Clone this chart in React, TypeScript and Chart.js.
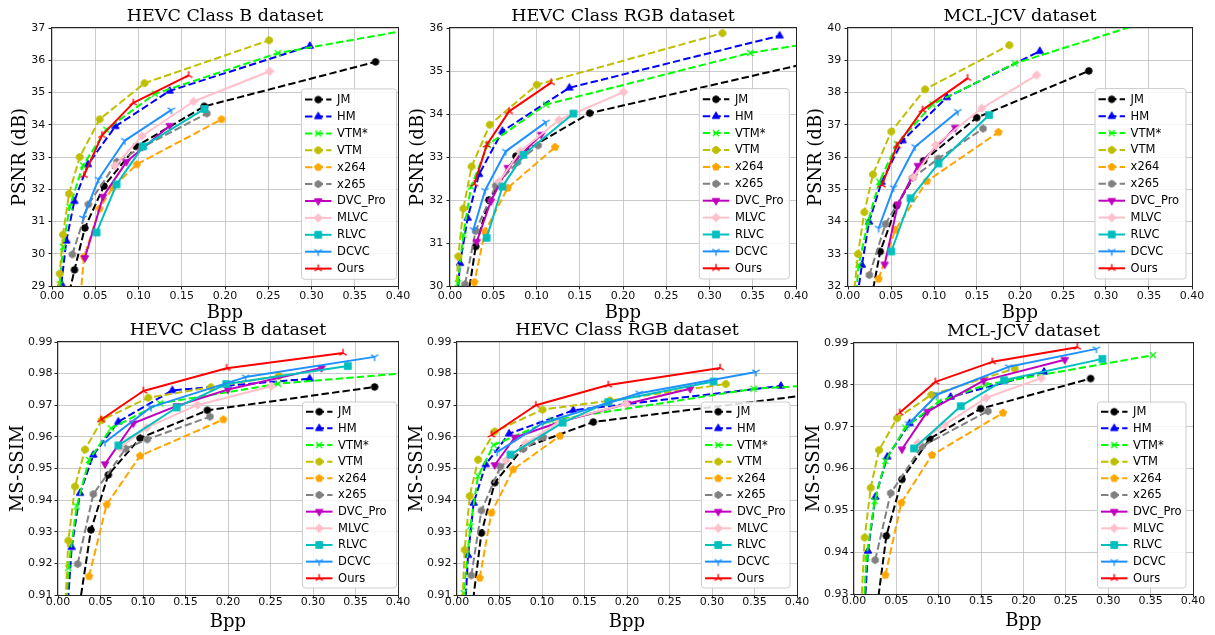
import React, { useEffect, useRef } from 'react';
import { Chart, registerables } from 'chart.js';

Chart.register(...registerables);

// ---------------- data ----------------
const SERIES = ['JM', 'HM', 'VTM*', 'VTM', 'x264', 'x265', 'DVC_Pro', 'MLVC', 'RLVC', 'DCVC', 'Ours'];

const BPP_TICKS = [0, 0.05, 0.1, 0.15, 0.2, 0.25, 0.3, 0.35, 0.4];
const PSNR_B_TICKS = [29, 30, 31, 32, 33, 34, 35, 36, 37];
const PSNR_RGB_TICKS = [30, 31, 32, 33, 34, 35, 36];
const PSNR_MCL_TICKS = [32, 33, 34, 35, 36, 37, 38, 39, 40];
const SSIM_B_TICKS = [0.91, 0.92, 0.93, 0.94, 0.95, 0.96, 0.97, 0.98, 0.99];
const SSIM_RGB_TICKS = [0.91, 0.92, 0.93, 0.94, 0.95, 0.96, 0.97, 0.98, 0.99];
const SSIM_MCL_TICKS = [0.93, 0.94, 0.95, 0.96, 0.97, 0.98, 0.99];

// [bpp, quality] per method, in SERIES order
const psnrClassB = [
  [[0.0175, 28.5], [0.026, 29.5], [0.038, 30.8], [0.06, 32.1], [0.0975, 33.33], [0.176, 34.57], [0.374, 35.95]],
  [[0.0108, 29.07], [0.0166, 30.4], [0.0258, 31.63], [0.0416, 32.77], [0.0732, 33.95], [0.136, 35.05], [0.298, 36.44]],
  [[0.0089, 29.05], [0.0127, 30.21], [0.0204, 31.45], [0.0358, 32.74], [0.0628, 33.85], [0.119, 34.96], [0.261, 36.22], [0.45, 37.12]],
  [[0.0064, 28.6], [0.0089, 29.38], [0.0127, 30.59], [0.0197, 31.86], [0.032, 33.0], [0.0551, 34.17], [0.107, 35.29], [0.251, 36.62]],
  [[0.033, 28.7], [0.037, 29.9], [0.055, 31.4], [0.07, 32.05], [0.098, 32.77], [0.196, 34.17]],
  [[0.0235, 29.98], [0.042, 31.53], [0.075, 32.85], [0.104, 33.3], [0.179, 34.35]],
  [[0.038, 29.87], [0.059, 31.77], [0.086, 32.85], [0.136, 33.97]],
  [[0.0728, 32.73], [0.104, 33.65], [0.1636, 34.72], [0.2516, 35.66]],
  [[0.0515, 30.66], [0.0746, 32.15], [0.1052, 33.33], [0.1763, 34.49]],
  [[0.0358, 31.11], [0.0538, 32.31], [0.0842, 33.51], [0.138, 34.46]],
  [[0.037, 32.43], [0.0578, 33.67], [0.094, 34.68], [0.158, 35.53]],
];

const psnrClassRGB = [
  [[0.019, 29.5], [0.0297, 30.92], [0.045, 32.0], [0.0762, 33.02], [0.1615, 34.02], [0.45, 35.35]],
  [[0.0075, 29.5], [0.0116, 30.53], [0.0204, 31.58], [0.0336, 32.6], [0.0606, 33.6], [0.138, 34.61], [0.381, 35.82]],
  [[0.0089, 30.06], [0.0154, 31.19], [0.0243, 32.31], [0.0436, 33.28], [0.111, 34.22], [0.347, 35.42], [0.45, 35.75]],
  [[0.006, 29.6], [0.0096, 30.69], [0.0154, 31.8], [0.025, 32.78], [0.046, 33.75], [0.1003, 34.68], [0.315, 35.88]],
  [[0.025, 29.5], [0.0282, 30.09], [0.0405, 31.27], [0.0667, 32.28], [0.1215, 33.23]],
  [[0.0174, 30.04], [0.0297, 31.28], [0.0528, 32.33], [0.078, 32.88], [0.102, 33.27]],
  [[0.0309, 31.03], [0.0472, 31.97], [0.0667, 32.75], [0.1055, 33.52]],
  [[0.0567, 32.43], [0.081, 33.13], [0.126, 33.86], [0.2006, 34.51]],
  [[0.0424, 31.12], [0.0606, 32.31], [0.0849, 33.05], [0.1427, 34.01]],
  [[0.027, 31.31], [0.0405, 32.22], [0.0644, 33.13], [0.111, 33.81]],
  [[0.0282, 32.37], [0.0424, 33.28], [0.0683, 34.06], [0.117, 34.73]],
];

const psnrMCL = [
  [[0.027, 31.6], [0.0375, 33.07], [0.0565, 34.49], [0.0878, 35.88], [0.1497, 37.22], [0.28, 38.67]],
  [[0.011, 31.7], [0.0162, 32.65], [0.0245, 33.99], [0.039, 35.22], [0.0635, 36.51], [0.115, 37.85], [0.223, 39.28]],
  [[0.0095, 31.8], [0.0124, 32.65], [0.0232, 33.99], [0.0364, 35.23], [0.0569, 36.4], [0.098, 37.63], [0.194, 38.9], [0.36, 40.3]],
  [[0.0063, 31.6], [0.0116, 32.99], [0.019, 34.29], [0.029, 35.46], [0.0503, 36.79], [0.0897, 38.1], [0.1876, 39.47]],
  [[0.0356, 32.22], [0.055, 33.74], [0.0917, 35.25], [0.175, 36.77]],
  [[0.0248, 32.34], [0.0436, 33.92], [0.075, 35.35], [0.105, 35.95], [0.157, 36.88]],
  [[0.0426, 32.67], [0.058, 34.53], [0.0812, 35.73], [0.1246, 36.91]],
  [[0.0762, 35.37], [0.102, 36.37], [0.1555, 37.51], [0.2193, 38.54]],
  [[0.0503, 33.07], [0.0727, 34.72], [0.1052, 35.8], [0.164, 37.3]],
  [[0.0356, 33.79], [0.053, 35.05], [0.078, 36.32], [0.1277, 37.41]],
  [[0.0395, 35.13], [0.0569, 36.35], [0.0867, 37.46], [0.139, 38.44]],
];

const ssimClassB = [
  [[0.0215, 0.9], [0.0388, 0.9306], [0.0592, 0.948], [0.0965, 0.9596], [0.1757, 0.9684], [0.3725, 0.9758]],
  [[0.011, 0.905], [0.0161, 0.9251], [0.0259, 0.9422], [0.0416, 0.9543], [0.071, 0.9648], [0.1345, 0.9747], [0.296, 0.9784]],
  [[0.0098, 0.905], [0.0122, 0.9185], [0.022, 0.938], [0.0365, 0.9527], [0.0624, 0.9627], [0.12, 0.9706], [0.2588, 0.9768], [0.45, 0.9811]],
  [[0.0082, 0.905], [0.0122, 0.9272], [0.02, 0.9443], [0.0318, 0.956], [0.0514, 0.9653], [0.1063, 0.9724], [0.18, 0.9757], [0.26, 0.9793]],
  [[0.0365, 0.9159], [0.0573, 0.9386], [0.0965, 0.954], [0.1945, 0.9655]],
  [[0.0231, 0.9198], [0.0416, 0.9419], [0.0796, 0.9563], [0.105, 0.9592], [0.1788, 0.9664]],
  [[0.0553, 0.9514], [0.0886, 0.9643], [0.14, 0.9698], [0.2, 0.975], [0.31, 0.9818]],
  [[0.073, 0.9566], [0.1043, 0.9629], [0.164, 0.9701], [0.251, 0.976]],
  [[0.071, 0.9573], [0.1396, 0.9693], [0.198, 0.9767], [0.341, 0.9824]],
  [[0.0553, 0.9583], [0.1094, 0.9694], [0.2208, 0.9789], [0.3725, 0.9853]],
  [[0.0506, 0.9654], [0.1004, 0.9745], [0.1984, 0.9817], [0.3353, 0.9865]],
];

const ssimClassRGB = [
  [[0.016, 0.902], [0.0287, 0.9296], [0.0444, 0.9455], [0.0778, 0.9565], [0.1603, 0.9647], [0.45, 0.9745]],
  [[0.009, 0.903], [0.013, 0.9226], [0.0196, 0.9391], [0.0338, 0.9513], [0.0613, 0.961], [0.1367, 0.9684], [0.381, 0.9761]],
  [[0.0065, 0.905], [0.0079, 0.9106], [0.0157, 0.9317], [0.0248, 0.9476], [0.0432, 0.9574], [0.111, 0.9652], [0.349, 0.9752], [0.45, 0.9768]],
  [[0.006, 0.905], [0.009, 0.9243], [0.015, 0.9413], [0.0248, 0.9528], [0.0444, 0.9617], [0.1006, 0.9686], [0.18, 0.9715], [0.3163, 0.9767]],
  [[0.0267, 0.9154], [0.0405, 0.936], [0.066, 0.9497], [0.121, 0.9603]],
  [[0.0169, 0.9162], [0.0287, 0.9367], [0.0511, 0.9506], [0.078, 0.9562], [0.1014, 0.9599]],
  [[0.0444, 0.9511], [0.068, 0.9598], [0.122, 0.9648], [0.2, 0.9705], [0.2743, 0.9752]],
  [[0.0574, 0.9525], [0.081, 0.958], [0.121, 0.9649], [0.1988, 0.9704]],
  [[0.0629, 0.9544], [0.1242, 0.9645], [0.178, 0.971], [0.3018, 0.9775]],
  [[0.0472, 0.9552], [0.1006, 0.9643], [0.2145, 0.9738], [0.3517, 0.9805]],
  [[0.0405, 0.9606], [0.0927, 0.97], [0.178, 0.9764], [0.3096, 0.9818]],
];

const ssimMCL = [
  [[0.024, 0.922], [0.0382, 0.9439], [0.0566, 0.9574], [0.0893, 0.9671], [0.1495, 0.9743], [0.2792, 0.9815]],
  [[0.012, 0.925], [0.0165, 0.9403], [0.0252, 0.9532], [0.0393, 0.9628], [0.0657, 0.9708], [0.114, 0.9771], [0.2242, 0.9831]],
  [[0.011, 0.925], [0.0146, 0.9387], [0.0244, 0.9522], [0.037, 0.9618], [0.0606, 0.9698], [0.1, 0.976], [0.155, 0.98], [0.3528, 0.9871]],
  [[0.008, 0.925], [0.0126, 0.9435], [0.0197, 0.9554], [0.0295, 0.9644], [0.0507, 0.972], [0.0912, 0.9776], [0.1896, 0.9839]],
  [[0.037, 0.9345], [0.0558, 0.9518], [0.092, 0.9632], [0.1758, 0.9733]],
  [[0.025, 0.9381], [0.0433, 0.9541], [0.08, 0.9653], [0.158, 0.9737]],
  [[0.0566, 0.9646], [0.0865, 0.9736], [0.153, 0.981], [0.2486, 0.986]],
  [[0.0755, 0.9661], [0.107, 0.9705], [0.156, 0.9769], [0.221, 0.9816]],
  [[0.0708, 0.9648], [0.1259, 0.9749], [0.177, 0.9811], [0.293, 0.9862]],
  [[0.0645, 0.9707], [0.0983, 0.9777], [0.1825, 0.9843], [0.286, 0.9886]],
  [[0.0539, 0.9733], [0.096, 0.9807], [0.1632, 0.9855], [0.2635, 0.989]],
];

// ---------------- styles ----------------
const COLORS = ['#000000', '#0000ff', '#00ff00', '#bfbf00', '#ffa500', '#808080', '#bf00bf', '#ffc0cb', '#00bfbf', '#1e90ff', '#ff0000'];
const DASHED = [true, true, true, true, true, true, false, false, false, false, false];
const MARKERS = ['circle', 'triUp', 'x', 'octagon', 'pentagon', 'hexagon', 'triDown', 'diamond', 'square', 'tri1', 'tri2'];
const DASH = [7.4, 3.2];

function makeMarker(shape: string, color: string): HTMLCanvasElement {
  const s = 14;
  const c = document.createElement('canvas');
  c.width = s;
  c.height = s;
  const g = c.getContext('2d')!;
  g.translate(s / 2, s / 2);
  g.fillStyle = color;
  g.strokeStyle = color;
  g.lineWidth = 1;
  const poly = (n: number, r: number, rot: number) => {
    g.beginPath();
    for (let i = 0; i < n; i++) {
      const a = rot + (i * 2 * Math.PI) / n;
      g.lineTo(r * Math.cos(a), r * Math.sin(a));
    }
    g.closePath();
    g.fill();
    g.stroke();
  };
  const rays = (angles: number[], r: number) => {
    g.lineWidth = 1.4;
    g.beginPath();
    for (const a of angles) {
      g.moveTo(0, 0);
      g.lineTo(r * Math.cos(a), r * Math.sin(a));
    }
    g.stroke();
  };
  switch (shape) {
    case 'circle':
      g.beginPath();
      g.arc(0, 0, 3.3, 0, Math.PI * 2);
      g.fill();
      g.stroke();
      break;
    case 'triUp':
      poly(3, 4.3, -Math.PI / 2);
      break;
    case 'triDown':
      poly(3, 4.3, Math.PI / 2);
      break;
    case 'square':
      g.fillRect(-3.3, -3.3, 6.6, 6.6);
      g.strokeRect(-3.3, -3.3, 6.6, 6.6);
      break;
    case 'diamond':
      poly(4, 4.3, 0);
      break;
    case 'pentagon':
      poly(5, 3.8, -Math.PI / 2);
      break;
    case 'hexagon':
      poly(6, 3.6, -Math.PI / 2);
      break;
    case 'octagon':
      poly(8, 3.6, Math.PI / 8);
      break;
    case 'x':
      g.lineWidth = 1.4;
      g.beginPath();
      g.moveTo(-3, -3);
      g.lineTo(3, 3);
      g.moveTo(-3, 3);
      g.lineTo(3, -3);
      g.stroke();
      break;
    case 'tri1':
      rays([Math.PI / 2, (-5 * Math.PI) / 6, -Math.PI / 6], 4.2);
      break;
    case 'tri2':
      rays([-Math.PI / 2, (5 * Math.PI) / 6, Math.PI / 6], 4.2);
      break;
  }
  return c;
}

let MARKER_IMGS: HTMLCanvasElement[] | null = null;
function markerImgs() {
  if (!MARKER_IMGS) MARKER_IMGS = MARKERS.map((m, i) => makeMarker(m, COLORS[i]));
  return MARKER_IMGS;
}

// ---------------- layout ----------------
type PanelCfg = {
  title: string;
  yTitle: string;
  data: number[][][];
  yMin: number;
  yMax: number;
  yTicks: number[];
  dec: number;
  left: number;
  top: number;
  w: number;
  h: number;
  yW: number;
  xPad: number;
  yPad: number;
  leg: { r: number; b: number; w: number; first: number; row: number };
};

const TOP_LEG = { first: 10.7, row: 16.9 };
const BOT_LEG = { first: 9.7, row: 16.66 };

const PANELS: PanelCfg[] = [
  { title: 'HEVC Class B dataset', yTitle: 'PSNR (dB)', data: psnrClassB, yMin: 29, yMax: 37, yTicks: PSNR_B_TICKS, dec: 0,
    left: 4, top: 0, w: 408, h: 326, yW: 48, xPad: 0, yPad: 3.3, leg: { r: 1.5, b: 6.7, w: 95, ...TOP_LEG } },
  { title: 'HEVC Class RGB dataset', yTitle: 'PSNR (dB)', data: psnrClassRGB, yMin: 30, yMax: 36, yTicks: PSNR_RGB_TICKS, dec: 0,
    left: 402, top: 0, w: 408, h: 326, yW: 48, xPad: 0, yPad: 3.3, leg: { r: 6.7, b: 7, w: 90, ...TOP_LEG } },
  { title: 'MCL-JCV dataset', yTitle: 'PSNR (dB)', data: psnrMCL, yMin: 32, yMax: 40, yTicks: PSNR_MCL_TICKS, dec: 0,
    left: 800, top: 0, w: 406, h: 326, yW: 48, xPad: 0, yPad: 3.3, leg: { r: 6, b: 7, w: 91, ...TOP_LEG } },
  { title: 'HEVC Class B dataset', yTitle: 'MS-SSIM', data: ssimClassB, yMin: 0.91, yMax: 0.99, yTicks: SSIM_B_TICKS, dec: 2,
    left: 2, top: 314, w: 410, h: 321, yW: 56, xPad: -2.5, yPad: 2, leg: { r: 1.5, b: 7, w: 94, ...BOT_LEG } },
  { title: 'HEVC Class RGB dataset', yTitle: 'MS-SSIM', data: ssimClassRGB, yMin: 0.91, yMax: 0.99, yTicks: SSIM_RGB_TICKS, dec: 2,
    left: 401, top: 314, w: 410, h: 321, yW: 56, xPad: -2.5, yPad: 2, leg: { r: 7, b: 7, w: 88.5, ...BOT_LEG } },
  { title: 'MCL-JCV dataset', yTitle: 'MS-SSIM', data: ssimMCL, yMin: 0.93, yMax: 0.99, yTicks: SSIM_MCL_TICKS, dec: 2,
    left: 798, top: 315, w: 409, h: 319, yW: 56, xPad: -2.5, yPad: 2, leg: { r: 7, b: 6, w: 88.5, ...BOT_LEG } },
];

function framePlusLegend(cfg: PanelCfg) {
  return {
    id: 'mplFrameLegend',
    afterDatasetsDraw(chart: any) {
      const { ctx, chartArea: a } = chart;
      const imgs = markerImgs();
      ctx.save();
      // axes frame (spines)
      ctx.strokeStyle = '#262626';
      ctx.lineWidth = 1;
      ctx.setLineDash([]);
      const l = Math.round(a.left) - 0.5, t = Math.round(a.top) - 0.5;
      const r = Math.round(a.right) + 0.5, b = Math.round(a.bottom) + 0.5;
      ctx.strokeRect(l, t, r - l, b - t);

      // legend box
      const g = cfg.leg;
      const n = SERIES.length;
      const bh = g.first * 2 + g.row * (n - 1);
      const right = a.right - g.r;
      const bottom = a.bottom - g.b;
      const left = right - g.w;
      const top = bottom - bh;
      const rad = 3;
      ctx.beginPath();
      ctx.moveTo(left + rad, top);
      ctx.lineTo(right - rad, top);
      ctx.arcTo(right, top, right, top + rad, rad);
      ctx.lineTo(right, bottom - rad);
      ctx.arcTo(right, bottom, right - rad, bottom, rad);
      ctx.lineTo(left + rad, bottom);
      ctx.arcTo(left, bottom, left, bottom - rad, rad);
      ctx.lineTo(left, top + rad);
      ctx.arcTo(left, top, left + rad, top, rad);
      ctx.closePath();
      ctx.fillStyle = 'rgba(255,255,255,0.85)';
      ctx.fill();
      ctx.strokeStyle = '#cccccc';
      ctx.lineWidth = 1;
      ctx.stroke();

      ctx.font = '11.5px "DejaVu Sans"';
      ctx.textBaseline = 'middle';
      ctx.textAlign = 'left';
      for (let i = 0; i < n; i++) {
        const y = top + g.first + i * g.row;
        ctx.strokeStyle = COLORS[i];
        ctx.lineWidth = 2;
        ctx.setLineDash(DASHED[i] ? DASH : []);
        ctx.beginPath();
        ctx.moveTo(left + 3.5, y);
        ctx.lineTo(left + 30, y);
        ctx.stroke();
        ctx.setLineDash([]);
        const im = imgs[i];
        ctx.drawImage(im, left + 16.7 - im.width / 2, y - im.height / 2);
        ctx.fillStyle = '#000';
        ctx.fillText(SERIES[i], left + 35.6, y + 0.5);
      }
      ctx.restore();
    },
  };
}

function buildConfig(cfg: PanelCfg): any {
  const imgs = markerImgs();
  const datasets = cfg.data.map((pts, i) => ({
    label: SERIES[i],
    data: pts.map(([x, y]) => ({ x, y })),
    borderColor: COLORS[i],
    backgroundColor: COLORS[i],
    borderWidth: 2,
    borderDash: DASHED[i] ? DASH : [],
    borderCapStyle: 'butt',
    borderJoinStyle: 'round',
    pointStyle: imgs[i],
    pointRadius: 4,
    pointHoverRadius: 4,
    fill: false,
    tension: 0,
    order: 20 - i,
  }));
  const gridCommon = {
    color: 'rgba(176,176,176,0.85)',
    lineWidth: 0.8,
    tickColor: '#262626',
    tickLength: 3.5,
    tickWidth: 1,
    drawTicks: true,
  };
  return {
    type: 'line',
    data: { datasets },
    options: {
      animation: false,
      responsive: false,
      devicePixelRatio: 1,
      events: [],
      layout: { padding: { left: 0, top: 0, right: 14, bottom: 0 } },
      plugins: {
        legend: { display: false },
        tooltip: { enabled: false },
        title: {
          display: true,
          text: cfg.title,
          fullSize: false,
          color: '#000',
          font: { family: '"DejaVu Serif"', size: 17.5, weight: 'normal', lineHeight: 1.2 },
          padding: { top: 5.5, bottom: 1.5 },
        },
      },
      scales: {
        x: {
          type: 'linear',
          min: 0,
          max: 0.4,
          afterBuildTicks: (s: any) => {
            s.ticks = BPP_TICKS.map((v) => ({ value: v }));
          },
          afterFit: (s: any) => {
            s.height = 40;
          },
          ticks: {
            autoSkip: false,
            maxRotation: 0,
            color: '#111',
            font: { family: '"DejaVu Sans"', size: 11 },
            padding: cfg.xPad,
            callback: (v: any) => Number(v).toFixed(2),
          },
          grid: gridCommon,
          border: { display: false },
          title: {
            display: true,
            text: 'Bpp',
            color: '#000',
            font: { family: '"DejaVu Serif"', size: 18, weight: 'normal', lineHeight: 1.2 },
            padding: { top: 0, bottom: 2.2 },
          },
        },
        y: {
          type: 'linear',
          min: cfg.yMin,
          max: cfg.yMax,
          afterBuildTicks: (s: any) => {
            s.ticks = cfg.yTicks.map((v) => ({ value: v }));
          },
          afterFit: (s: any) => {
            s.width = cfg.yW;
          },
          ticks: {
            autoSkip: false,
            color: '#111',
            font: { family: '"DejaVu Sans"', size: 11 },
            padding: cfg.yPad,
            callback: (v: any) => Number(v).toFixed(cfg.dec),
          },
          grid: gridCommon,
          border: { display: false },
          title: {
            display: true,
            text: cfg.yTitle,
            color: '#000',
            font: { family: '"DejaVu Serif"', size: 18, weight: 'normal', lineHeight: 1.2 },
            padding: { top: 5.2, bottom: 0 },
          },
        },
      },
    },
    plugins: [framePlusLegend(cfg)],
  };
}

function Panel({ cfg }: { cfg: PanelCfg }) {
  const ref = useRef<HTMLCanvasElement | null>(null);
  useEffect(() => {
    if (!ref.current) return;
    const chart = new Chart(ref.current, buildConfig(cfg));
    return () => chart.destroy();
  }, [cfg]);
  return (
    <canvas
      ref={ref}
      width={cfg.w}
      height={cfg.h}
      style={{ position: 'absolute', left: cfg.left, top: cfg.top, width: cfg.w, height: cfg.h }}
    />
  );
}

export default function App() {
  return (
    <div style={{ position: 'absolute', left: 0, top: 0, width: 1215, height: 635, background: '#fff', overflow: 'hidden' }}>
      {PANELS.map((p, i) => (
        <Panel key={i} cfg={p} />
      ))}
    </div>
  );
}
